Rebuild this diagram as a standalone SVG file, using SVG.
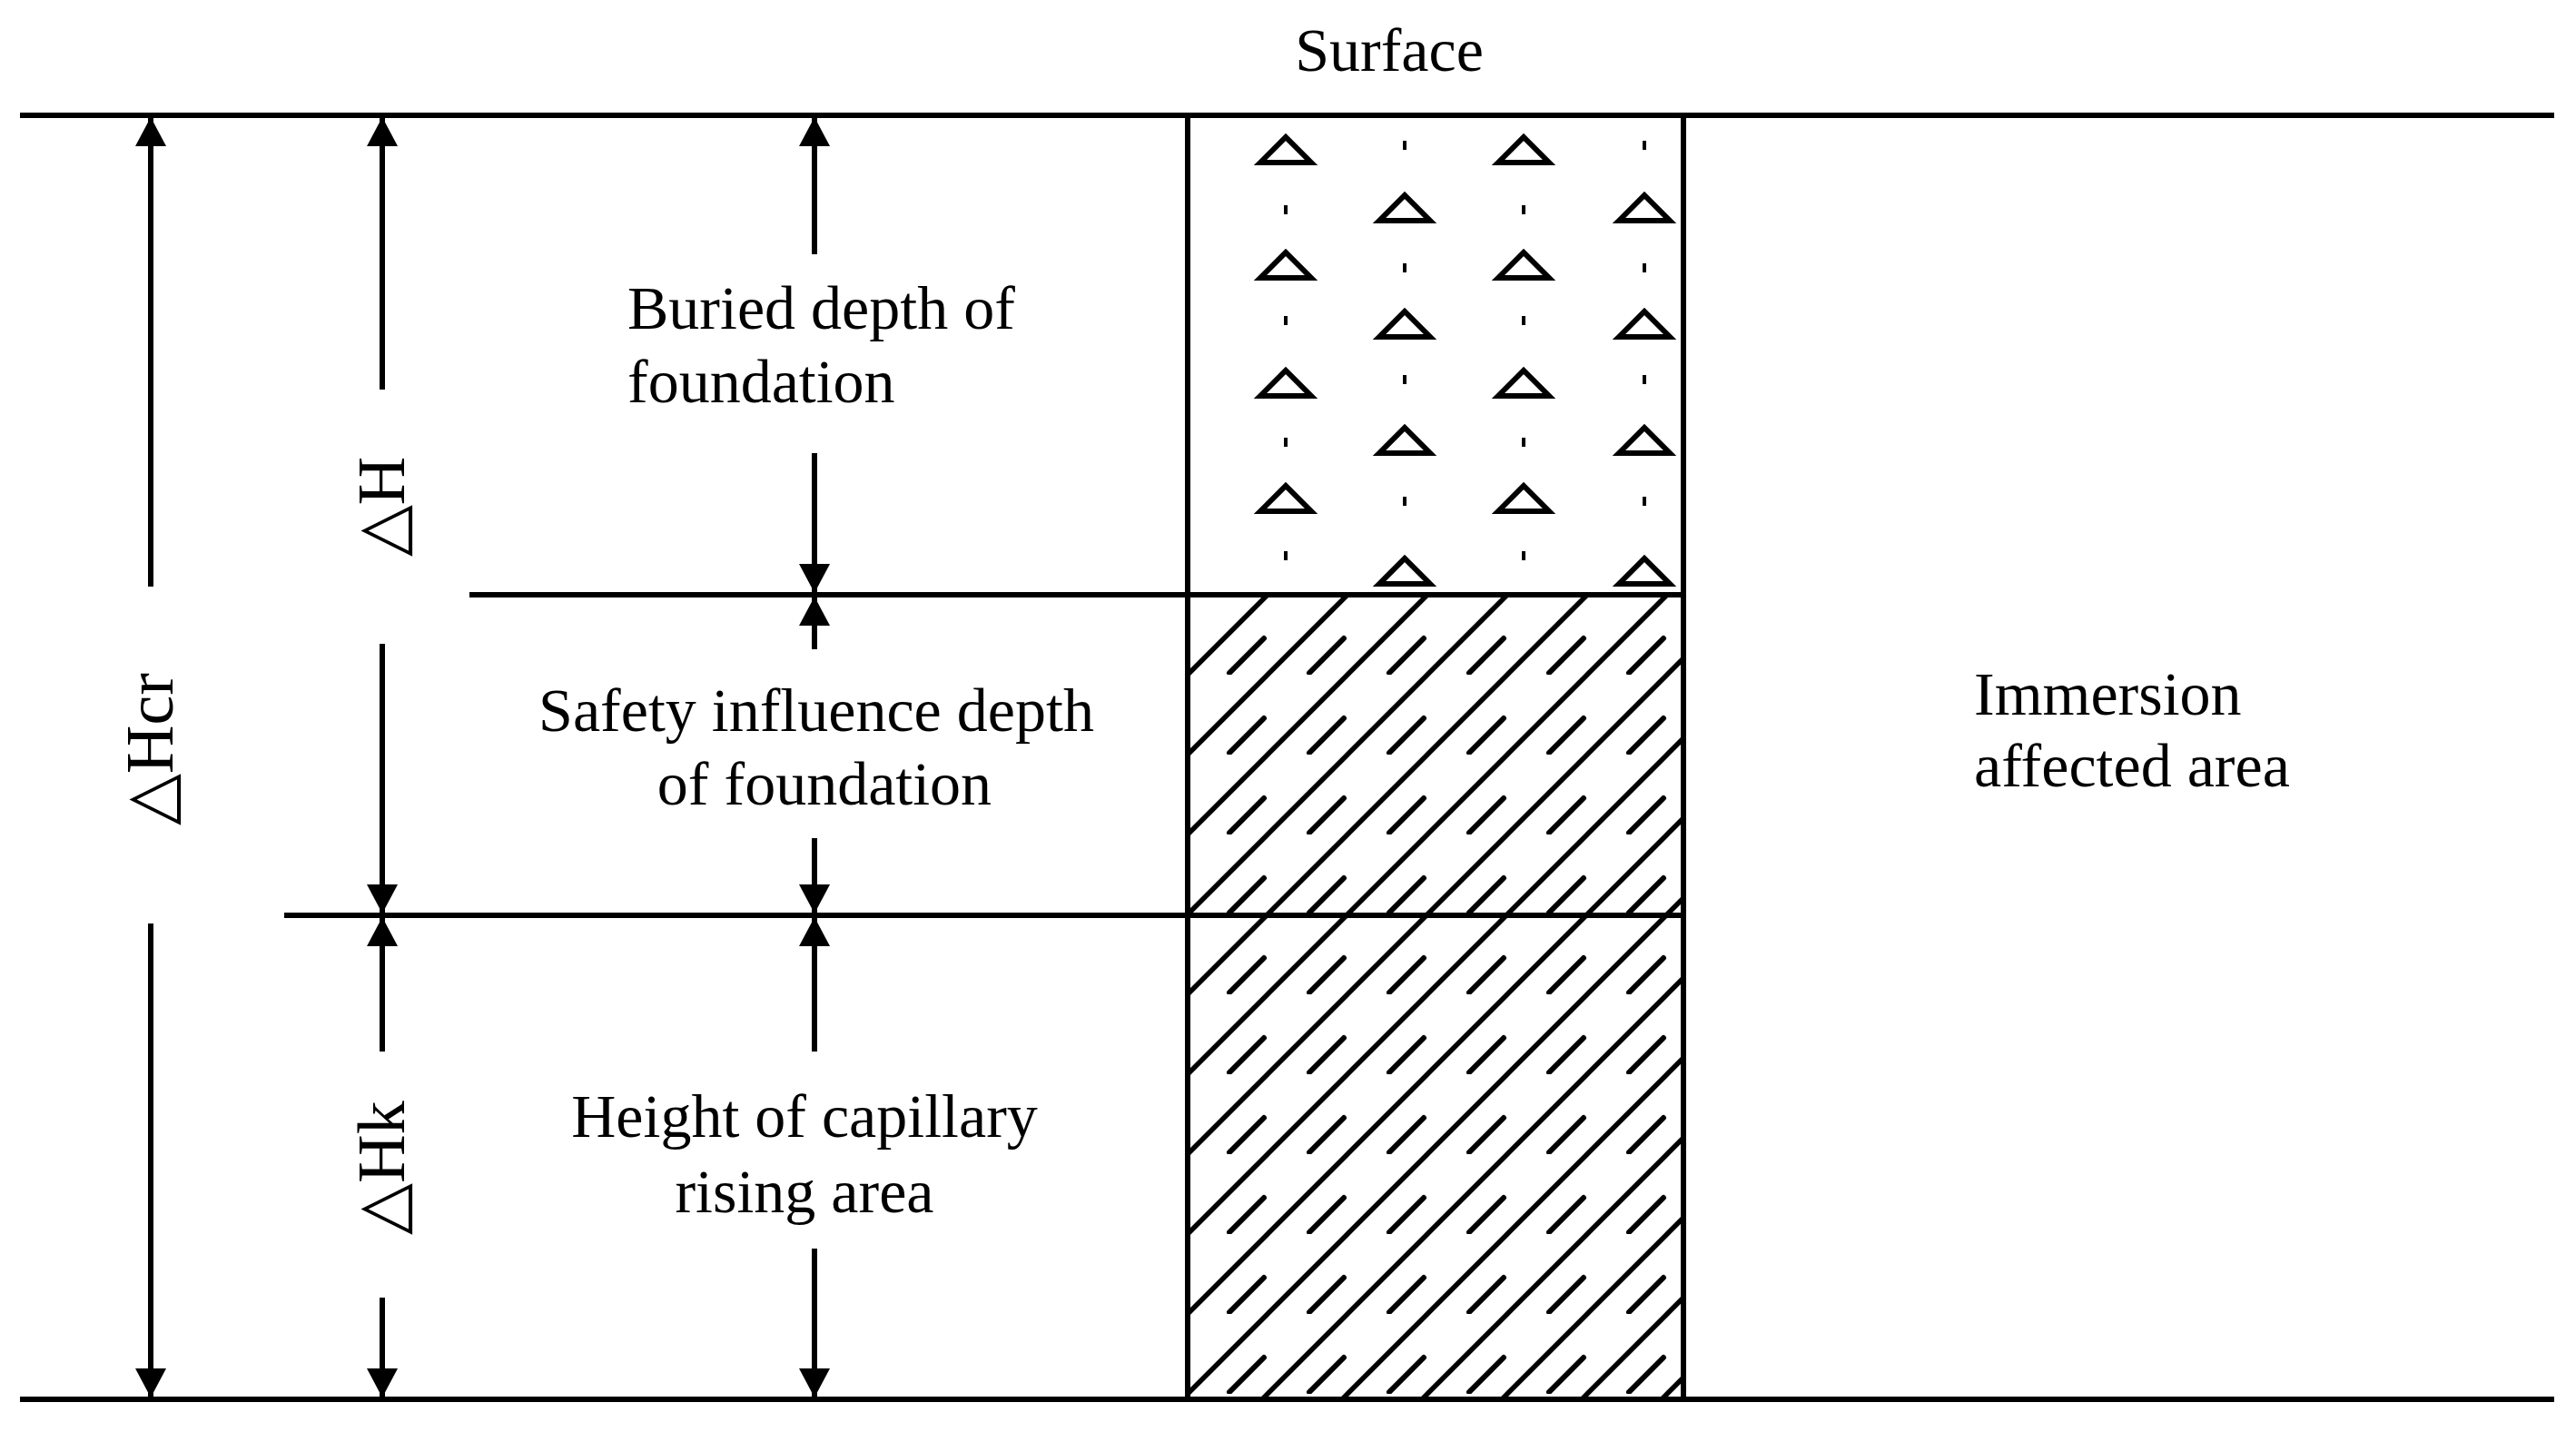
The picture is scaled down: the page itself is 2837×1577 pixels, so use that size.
<svg xmlns="http://www.w3.org/2000/svg" width="2837" height="1577" viewBox="0 0 2837 1577">
<style>
.ln{stroke:#000;stroke-width:6;fill:none}
.ar{stroke:#000;stroke-width:6;fill:none}
.t{font-family:"Liberation Serif","Times New Roman",serif;font-size:68px;fill:#000}
.tri{fill:none;stroke:#000;stroke-width:6;stroke-linejoin:miter}
</style>
<defs>
<marker id="ah" viewBox="0 0 32 34" refX="32" refY="17" markerWidth="32" markerHeight="34" markerUnits="userSpaceOnUse" orient="auto">
<path d="M0,0 L32,17 L0,34 Z" fill="#000"/>
</marker>
<pattern id="hatch" patternUnits="userSpaceOnUse" width="88" height="88" x="1308" y="655">
<path d="M-4,92 L92,-4 M-4,4 L4,-4 M84,92 L92,84" stroke="#000" stroke-width="5.5"/>
<path d="M46,86 L84,48" stroke="#000" stroke-width="6" stroke-linecap="round"/>
</pattern>
<g id="tr"><path class="tri" d="M-28,14 L0,-14 L28,14 Z"/></g>
<g id="dt"><rect x="-2" y="-5" width="4" height="10" fill="#000"/></g>
</defs>
<rect width="2837" height="1577" fill="#fff"/>
<g id="box">
<rect x="1308" y="655" width="546" height="886" fill="url(#hatch)"/>
<g id="tris">
<use href="#tr" x="1416" y="165"/><use href="#tr" x="1416" y="292"/><use href="#tr" x="1416" y="422"/><use href="#tr" x="1416" y="549"/>
<use href="#tr" x="1678" y="165"/><use href="#tr" x="1678" y="292"/><use href="#tr" x="1678" y="422"/><use href="#tr" x="1678" y="549"/>
<use href="#tr" x="1547" y="229"/><use href="#tr" x="1547" y="357"/><use href="#tr" x="1547" y="485"/><use href="#tr" x="1547" y="629"/>
<use href="#tr" x="1811" y="229"/><use href="#tr" x="1811" y="357"/><use href="#tr" x="1811" y="485"/><use href="#tr" x="1811" y="629"/>
<use href="#dt" x="1416" y="231"/><use href="#dt" x="1416" y="353"/><use href="#dt" x="1416" y="487"/><use href="#dt" x="1416" y="612"/>
<use href="#dt" x="1678" y="231"/><use href="#dt" x="1678" y="353"/><use href="#dt" x="1678" y="487"/><use href="#dt" x="1678" y="612"/>
<use href="#dt" x="1547" y="160"/><use href="#dt" x="1547" y="295"/><use href="#dt" x="1547" y="418"/><use href="#dt" x="1547" y="552"/>
<use href="#dt" x="1811" y="160"/><use href="#dt" x="1811" y="295"/><use href="#dt" x="1811" y="418"/><use href="#dt" x="1811" y="552"/>
</g>
<rect x="1308" y="127" width="546" height="1414" class="ln" stroke-width="7"/>
</g>
<g id="lines">
<line class="ln" x1="22" y1="127" x2="2813" y2="127"/>
<line class="ln" x1="22" y1="1541" x2="2813" y2="1541"/>
<line class="ln" x1="517" y1="655" x2="1854" y2="655" stroke-width="7"/>
<line class="ln" x1="313" y1="1008" x2="1854" y2="1008" stroke-width="7"/>
</g>
<g id="connectors">
<line class="ar" x1="166" y1="646" x2="166" y2="129" marker-end="url(#ah)"/>
<line class="ar" x1="166" y1="1017" x2="166" y2="1539" marker-end="url(#ah)"/>
<line class="ar" x1="421" y1="429" x2="421" y2="129" marker-end="url(#ah)"/>
<line class="ar" x1="421" y1="709" x2="421" y2="1006" marker-end="url(#ah)"/>
<line class="ar" x1="421" y1="1158" x2="421" y2="1010" marker-end="url(#ah)"/>
<line class="ar" x1="421" y1="1429" x2="421" y2="1539" marker-end="url(#ah)"/>
<line class="ar" x1="897" y1="280" x2="897" y2="129" marker-end="url(#ah)"/>
<line class="ar" x1="897" y1="499" x2="897" y2="653" marker-end="url(#ah)"/>
<line class="ar" x1="897" y1="715" x2="897" y2="657" marker-end="url(#ah)"/>
<line class="ar" x1="897" y1="923" x2="897" y2="1006" marker-end="url(#ah)"/>
<line class="ar" x1="897" y1="1158" x2="897" y2="1010" marker-end="url(#ah)"/>
<line class="ar" x1="897" y1="1375" x2="897" y2="1539" marker-end="url(#ah)"/>
</g>
<g id="labels">
<text class="t" x="1530" y="78" text-anchor="middle">Surface</text>
<text class="t" x="691" y="362">Buried depth of</text>
<text class="t" x="691" y="443">foundation</text>
<text class="t" x="899" y="805" text-anchor="middle">Safety influence depth</text>
<text class="t" x="908" y="886" text-anchor="middle">of foundation</text>
<text class="t" x="886" y="1252" text-anchor="middle">Height of capillary</text>
<text class="t" x="886" y="1335" text-anchor="middle">rising area</text>
<text class="t" x="2174" y="787">Immersion</text>
<text class="t" x="2174" y="866">affected area</text>
<text class="t" transform="translate(190,825) rotate(-90)" text-anchor="middle" style="font-size:74px">△Hcr</text>
<text class="t" transform="translate(445,558) rotate(-90)" text-anchor="middle" style="font-size:74px">△H</text>
<text class="t" transform="translate(445,1286) rotate(-90)" text-anchor="middle" style="font-size:74px">△Hk</text>
</g>
</svg>
